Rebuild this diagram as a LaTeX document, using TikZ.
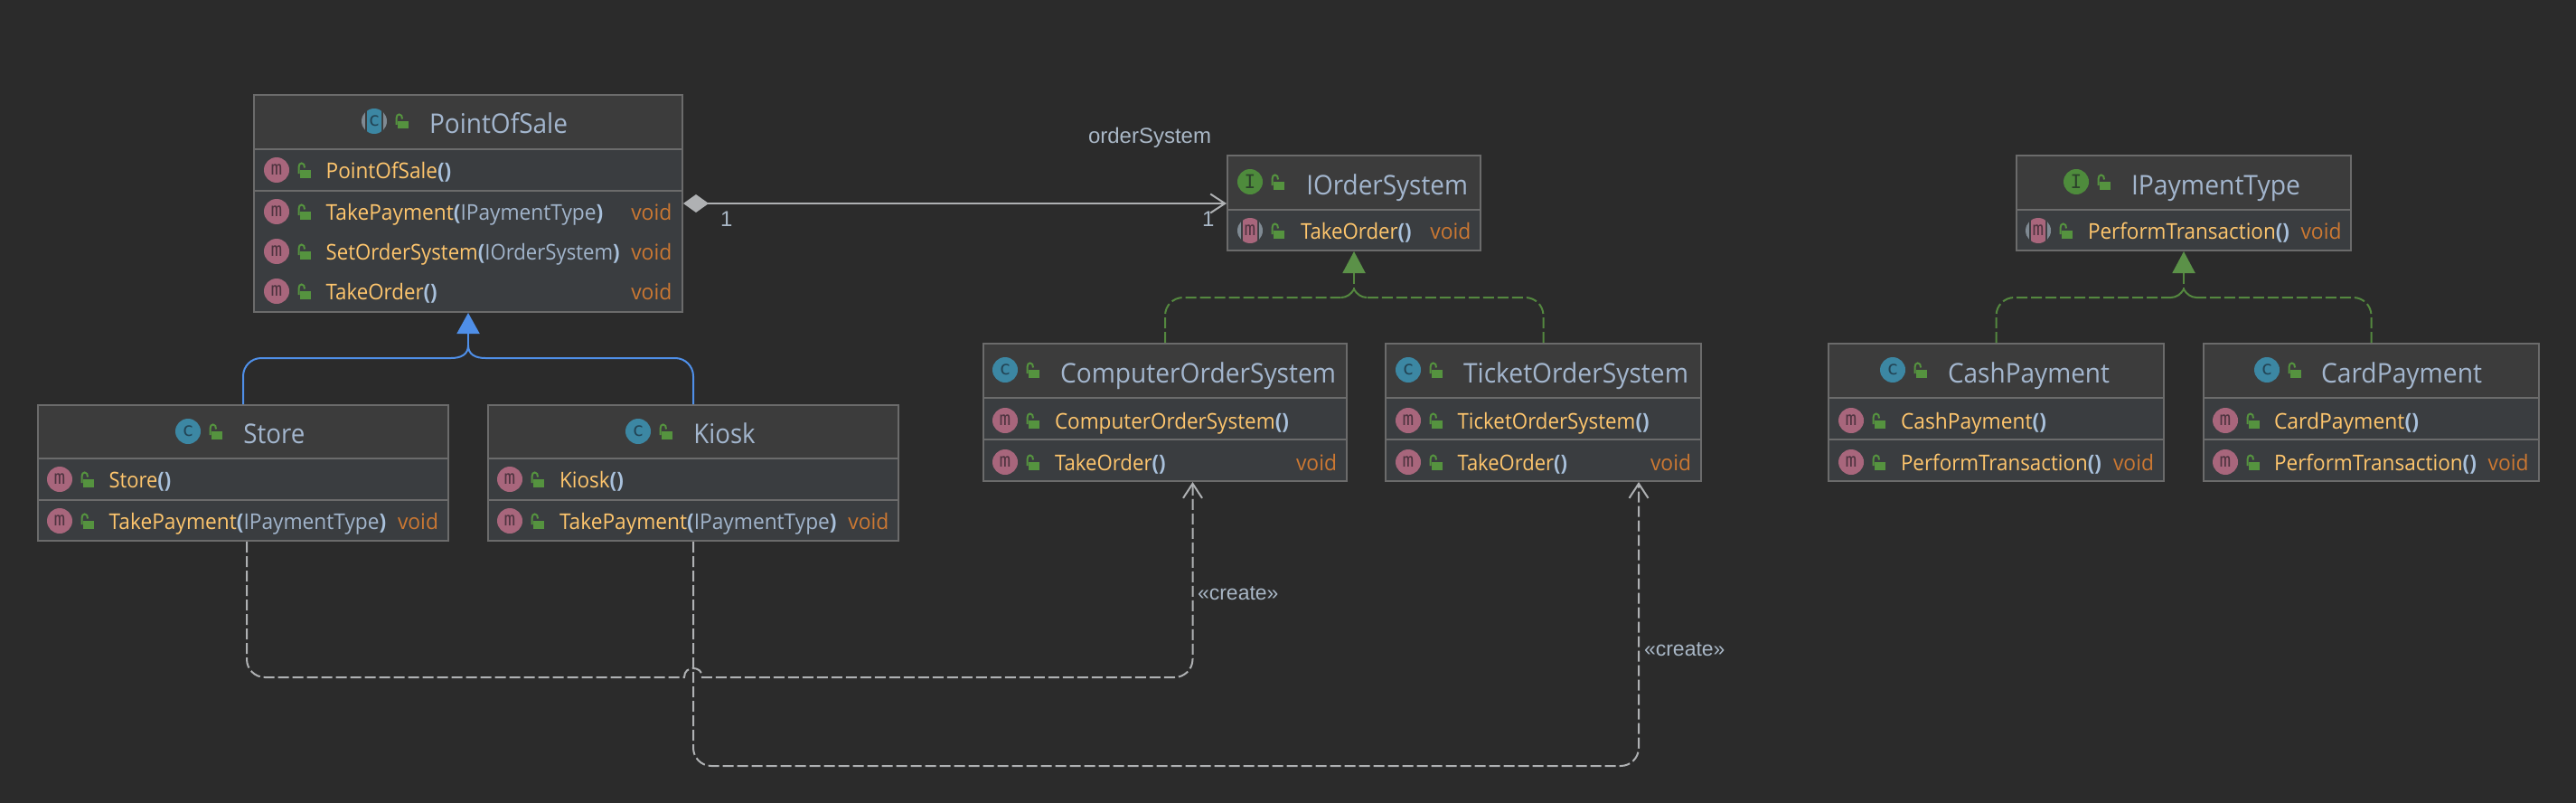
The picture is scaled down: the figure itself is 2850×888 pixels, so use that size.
\documentclass[tikz,border=0pt]{standalone}
\usepackage{fontspec}
\usepackage{graphicx}
\usetikzlibrary{arrows.meta,calc}
\setmainfont{Open Sans}
\newfontfamily\arialfont{Liberation Sans}
\newfontfamily\iconfont{DejaVu Sans Mono}
\definecolor{bgc}{HTML}{2B2B2B}
\definecolor{titlebg}{HTML}{3C3C3C}
\definecolor{rowbg}{HTML}{3A3D40}
\definecolor{borderc}{HTML}{6B6B6B}
\definecolor{mnamec}{HTML}{FFC66D}
\definecolor{punc}{HTML}{A9C1DC}
\definecolor{typec}{HTML}{A2B5CC}
\definecolor{voidc}{HTML}{CC7832}
\definecolor{titlec}{HTML}{A3B6CE}
\definecolor{labelc}{HTML}{A9B7C6}
\definecolor{linec}{HTML}{AFB1B3}
\definecolor{inhc}{HTML}{4F8FE8}
\definecolor{implc}{HTML}{54883F}
\definecolor{tric}{HTML}{5B9148}
\definecolor{lockc}{HTML}{55933F}
\definecolor{cicon}{HTML}{3C87A3}
\definecolor{cletter}{HTML}{234556}
\definecolor{micon}{HTML}{A8667C}
\definecolor{mletter}{HTML}{4F3440}
\definecolor{iicon}{HTML}{4E8B3C}
\definecolor{iletter}{HTML}{2C412B}
\definecolor{edgec}{HTML}{7F8A93}
\tikzset{
  classbox/.style={draw=borderc,fill=rowbg,line width=2pt,inner sep=0pt,outer sep=1pt},
  titleband/.style={fill=titlebg},
  seprule/.style={draw=borderc,line width=2.4pt},
  iconbase/.style={circle,minimum size=28pt,inner sep=0pt,outer sep=0pt,font=\iconfont\fontsize{21}{21}\selectfont},
  cico/.style={iconbase,fill=cicon,text=cletter},
  mico/.style={iconbase,fill=micon,text=mletter},
  iico/.style={iconbase,fill=iicon,text=iletter},
  bareico/.style={iconbase},
  rowtxt/.style={inner sep=0pt,outer sep=0pt,anchor=base west,font=\fontsize{24}{28}\selectfont},
  titletxt/.style={inner sep=0pt,outer sep=0pt,anchor=base west,text=titlec,font=\fontsize{30}{34}\selectfont},
  voidtxt/.style={rowtxt,text=voidc},
  lbl/.style={inner sep=0pt,outer sep=0pt,anchor=base west,text=labelc,font=\arialfont\fontsize{24}{28}\selectfont},
  crlbl/.style={lbl,font=\arialfont\fontsize{23}{28}\selectfont},
  inhline/.style={draw=inhc,line width=2pt},
  inhtip/.style={{Triangle[length=23pt,width=25pt,fill=inhc]}-},
  implline/.style={draw=implc,line width=2pt,dash pattern=on 12pt off 4pt},
  impltip/.style={{Triangle[length=24pt,width=25pt,fill=tric,color=tric]}-},
  compline/.style={draw=linec,line width=2pt},
  depline/.style={draw=linec,line width=2pt,dash pattern=on 12pt off 4pt},
  openhead/.style={-{Straight Barb[length=16pt,width=21pt,line width=2pt]}},
}
\newcommand\fitw[2]{\resizebox{#1pt}{\height}{#2}}
\newcommand\mn[1]{\textcolor{mnamec}{#1}}
\newcommand\pn[1]{\textcolor{punc}{\bfseries #1}}
\newcommand\ty[1]{\textcolor{typec}{#1}}
% id x1 y1 x2 y2 sep1 : box with title band and first rule
\newcommand\classbox[6]{%
  \node[classbox,minimum width={#4-#2-2},minimum height={#5-#3-2}] (#1) at ({(#2+#4)/2},{(#3+#5)/2}) {};
  \fill[titleband] ({#2+2},{#3+2}) rectangle ({#4-2},#6);
  \draw[seprule] ({#2+2},#6) -- ({#4-2},#6);
}
\newcommand\secrule[3]{\draw[seprule] ({#1+2},#3) -- ({#2-2},#3);}
\newcommand\lockat[2]{%
  \begin{scope}[shift={(#1,#2)}]
    \fill[lockc] (26,0) rectangle (38,8.5);
    \draw[lockc,line width=2pt] (24.5,4) -- (24.5,-3) .. controls (24.5,-6) and (26,-7.5) .. (27.7,-7.5) .. controls (30,-7.5) and (31,-5.5) .. (31,-2.5);
  \end{scope}%
}
% id style letter cx cy textx baselineY width text
\newcommand\titlerow[9]{%
  \node[#2] (#1-icon) at (#4,#5) {#3};
  \lockat{#4}{#5}
  \node[titletxt] (#1-title) at (#6,#7) {\fitw{#8}{#9}};
}
% id cx cy textx width text
\newcommand\member[6]{%
  \node[mico] (#1-icon) at (#2,#3) {m};
  \lockat{#2}{#3}
  \node[rowtxt] (#1-text) at (#4,{#3+9}) {\fitw{#5}{#6}};
}
% abstract icon underlay : cx cy colour bandcolour
\newcommand\abstractbase[4]{%
  \fill[edgec] (#1,#2) circle[radius=14pt];
  \fill[#4] ({#1-10},{#2-14.5}) rectangle ({#1+10},{#2+14.5});
  \begin{scope}
    \clip (#1,#2) circle[radius=14pt];
    \fill[#3,rounded corners=2pt] ({#1-8},{#2-14.5}) rectangle ({#1+8},{#2+14.5});
  \end{scope}
}
\newcommand\amember[6]{%
  \abstractbase{#2}{#3}{micon}{rowbg}
  \node[bareico,text=mletter] (#1-icon) at (#2,#3) {m};
  \lockat{#2}{#3}
  \node[rowtxt] (#1-text) at (#4,{#3+9}) {\fitw{#5}{#6}};
}
\newcommand\voidat[3]{\node[voidtxt] (#1-void) at (#2,{#3+9}) {\fitw{45}{void}};}
\begin{document}
\begin{tikzpicture}[x=1pt,y=-1pt]
\useasboundingbox (0,0) rectangle (2850,888);
\fill[bgc] (0,0) rectangle (2850,888);

% ---- PointOfSale
\classbox{pos}{280}{104}{756}{346}{165}
\secrule{280}{756}{211}
\abstractbase{414}{134}{cicon}{titlebg}
\node[bareico,text=cletter] (pos-icon) at (414,134) {c};
\lockat{414}{134}
\node[titletxt] (pos-title) at (475,148) {\fitw{153}{PointOfSale}};
\member{posa}{306}{188}{360.7}{138.6}{\mn{PointOfSale}\pn{()}}
\member{posb}{306}{234}{360.7}{306.6}{\mn{TakePayment}\pn{(}\ty{IPaymentType}\pn{)}}
\voidat{posb}{698.3}{234}
\member{posc}{306}{278}{360.7}{325}{\mn{SetOrderSystem}\pn{(}\ty{IOrderSystem}\pn{)}}
\voidat{posc}{698.3}{278}
\member{posd}{306}{322}{360.7}{123}{\mn{TakeOrder}\pn{()}}
\voidat{posd}{698.3}{322}

% ---- Store
\classbox{store}{41}{447}{497}{599}{507}
\secrule{41}{497}{553}
\titlerow{store}{cico}{c}{208}{477}{269.3}{490}{68}{Store}
\member{storea}{66}{530}{120.7}{68.6}{\mn{Store}\pn{()}}
\member{storeb}{66}{576}{120.7}{306.6}{\mn{TakePayment}\pn{(}\ty{IPaymentType}\pn{)}}
\voidat{storeb}{440}{576}

% ---- Kiosk
\classbox{kiosk}{539}{447}{995}{599}{507}
\secrule{539}{995}{553}
\titlerow{kiosk}{cico}{c}{706}{477}{767.3}{490}{68.4}{Kiosk}
\member{kioska}{564}{530}{619}{71}{\mn{Kiosk}\pn{()}}
\member{kioskb}{564}{576}{619}{306.6}{\mn{TakePayment}\pn{(}\ty{IPaymentType}\pn{)}}
\voidat{kioskb}{938.3}{576}

% ---- IOrderSystem
\classbox{iorder}{1357}{171}{1639}{278}{232}
\titlerow{iorder}{iico}{I}{1383}{201}{1445.3}{215}{178.7}{IOrderSystem}
\amember{iordera}{1383}{255}{1439}{122.7}{\mn{TakeOrder}\pn{()}}
\voidat{iordera}{1582.3}{255}

% ---- ComputerOrderSystem
\classbox{comp}{1087}{379}{1491}{533}{440}
\secrule{1087}{1491}{486}
\titlerow{comp}{cico}{c}{1112}{409}{1173}{423}{305}{ComputerOrderSystem}
\member{compa}{1112}{465}{1167}{259}{\mn{ComputerOrderSystem}\pn{()}}
\member{compb}{1112}{511}{1167}{122.6}{\mn{TakeOrder}\pn{()}}
\voidat{compb}{1434}{511}

% ---- TicketOrderSystem
\classbox{ticket}{1532}{379}{1883}{533}{440}
\secrule{1532}{1883}{486}
\titlerow{ticket}{cico}{c}{1558}{409}{1619}{423}{249}{TicketOrderSystem}
\member{ticketa}{1558}{465}{1612.6}{212}{\mn{TicketOrderSystem}\pn{()}}
\member{ticketb}{1558}{511}{1612.6}{121.4}{\mn{TakeOrder}\pn{()}}
\voidat{ticketb}{1826}{511}

% ---- IPaymentType
\classbox{ipay}{2230}{171}{2602}{278}{232}
\titlerow{ipay}{iico}{I}{2297}{201}{2358}{215}{187}{IPaymentType}
\amember{ipaya}{2255}{255}{2310}{223}{\mn{PerformTransaction}\pn{()}}
\voidat{ipaya}{2545.5}{255}

% ---- CashPayment
\classbox{cash}{2022}{379}{2395}{533}{440}
\secrule{2022}{2395}{486}
\titlerow{cash}{cico}{c}{2094}{409}{2155}{423}{179}{CashPayment}
\member{casha}{2048}{465}{2103}{161}{\mn{CashPayment}\pn{()}}
\member{cashb}{2048}{511}{2103}{222}{\mn{PerformTransaction}\pn{()}}
\voidat{cashb}{2338}{511}

% ---- CardPayment
\classbox{card}{2437}{379}{2810}{533}{440}
\secrule{2437}{2810}{486}
\titlerow{card}{cico}{c}{2508}{409}{2568}{423}{178}{CardPayment}
\member{carda}{2462}{465}{2516}{160}{\mn{CardPayment}\pn{()}}
\member{cardb}{2462}{511}{2516}{224}{\mn{PerformTransaction}\pn{()}}
\voidat{cardb}{2752.6}{511}

% ---- inheritance
\coordinate (posBus) at (pos.south |- 0,396);
\coordinate (posJ) at (pos.south |- 0,382);
\draw[inhline,rounded corners=20pt] (store.north) -- (store.north |- posBus) -- ($(posBus)+(-19,0)$);
\draw[inhline,rounded corners=20pt] (kiosk.north) -- (kiosk.north |- posBus) -- ($(posBus)+(19,0)$);
\draw[inhline] ($(posBus)+(-19,0)$) .. controls ($(posBus)+(-8,0)$) and ($(posBus)+(0,-4)$) .. (posJ);
\draw[inhline] ($(posBus)+(19,0)$) .. controls ($(posBus)+(8,0)$) and ($(posBus)+(0,-4)$) .. (posJ);
\draw[inhline,inhtip] (pos.south) -- (posJ);

% ---- realisation: IOrderSystem
\coordinate (ioBus) at (iorder.south |- 0,329);
\coordinate (ioJ) at (iorder.south |- 0,320);
\draw[implline,rounded corners=20pt] (comp.north) -- (comp.north |- ioBus) -- ($(ioBus)+(-14,0)$);
\draw[implline,rounded corners=20pt] (ticket.north) -- (ticket.north |- ioBus) -- ($(ioBus)+(14,0)$);
\draw[draw=implc,line width=2pt] ($(ioBus)+(-14,0)$) .. controls ($(ioBus)+(-8,0)$) and ($(ioBus)+(-3,-4)$) .. (ioJ);
\draw[draw=implc,line width=2pt] ($(ioBus)+(14,0)$) .. controls ($(ioBus)+(8,0)$) and ($(ioBus)+(3,-4)$) .. (ioJ);
\draw[implline,impltip] (iorder.south) -- (ioJ);

% ---- realisation: IPaymentType
\coordinate (ipBus) at (ipay.south |- 0,329);
\coordinate (ipJ) at (ipay.south |- 0,320);
\draw[implline,rounded corners=20pt] (cash.north) -- (cash.north |- ipBus) -- ($(ipBus)+(-14,0)$);
\draw[implline,rounded corners=20pt] (card.north) -- (card.north |- ipBus) -- ($(ipBus)+(14,0)$);
\draw[draw=implc,line width=2pt] ($(ipBus)+(-14,0)$) .. controls ($(ipBus)+(-8,0)$) and ($(ipBus)+(-3,-4)$) .. (ipJ);
\draw[draw=implc,line width=2pt] ($(ipBus)+(14,0)$) .. controls ($(ipBus)+(8,0)$) and ($(ipBus)+(3,-4)$) .. (ipJ);
\draw[implline,impltip] (ipay.south) -- (ipJ);

% ---- composition
\coordinate (compStart) at (pos.east |- 0,225);
\draw[compline,{Diamond[length=28pt,width=20pt,fill=linec]}-{Straight Barb[length=16pt,width=21pt,line width=2pt]}] (compStart) -- (compStart -| iorder.west);
\node[lbl] (compOne) at (797,250.5) {1};
\node[lbl] (compTwo) at (1330,250.5) {1};
\node[lbl] (compRole) at (1204,158) {orderSystem};

% ---- create dependencies
\coordinate (depA) at ([xshift=4pt]store.south);
\coordinate (tgtA) at ([xshift=30.5pt]comp.south);
\coordinate (busA) at (depA |- 0,749);
\coordinate (hop) at (kiosk.south |- 0,749);
\coordinate (cornerA) at (tgtA |- hop);
\draw[depline,openhead] (depA) -- ($(busA)+(0,-20)$)
   .. controls ($(busA)+(0,-9)$) and ($(busA)+(9,0)$) .. ($(busA)+(20,0)$)
   -- ($(hop)+(-10,0)$)
   .. controls ($(hop)+(-10,-7)$) and ($(hop)+(-5,-10)$) .. ($(hop)+(0,-10)$)
   .. controls ($(hop)+(5,-10)$) and ($(hop)+(10,-7)$) .. ($(hop)+(10,0)$)
   -- ($(cornerA)+(-20,0)$)
   .. controls ($(cornerA)+(-9,0)$) and ($(cornerA)+(0,-9)$) .. ($(cornerA)+(0,-20)$)
   -- (tgtA);
\coordinate (tgtB) at ([xshift=105.5pt]ticket.south);
\coordinate (busB) at (kiosk.south |- 0,847);
\draw[depline,openhead,rounded corners=20pt] (kiosk.south) -- (busB) -- (tgtB |- busB) -- (tgtB);
\node[crlbl] (createA) at (1325,663) {«create»};
\node[crlbl] (createB) at (1819,725) {«create»};
\end{tikzpicture}
\end{document}
